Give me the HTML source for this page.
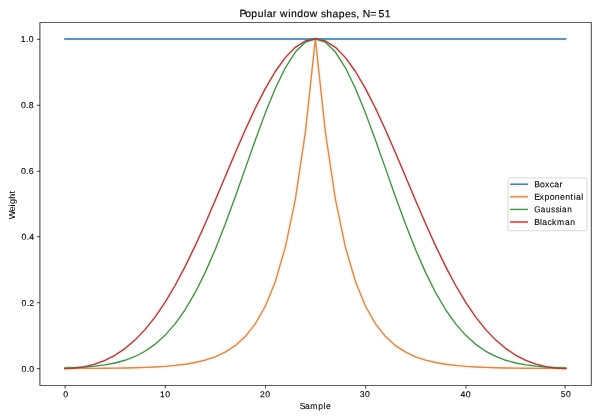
<!DOCTYPE html>
<html><head><meta charset="utf-8"><title>Popular window shapes, N=51</title>
<style>html,body{margin:0;padding:0;background:#fff;width:600px;height:420px;overflow:hidden}svg{display:block;will-change:transform}text{font-family:"Liberation Sans",sans-serif;fill:#000;text-rendering:geometricPrecision}</style>
</head><body>
<svg width="600" height="420" viewBox="0 0 600 420">
<rect x="0" y="0" width="600" height="420" fill="#ffffff"/>
<clipPath id="c"><rect x="39.767" y="22.400" width="551.233" height="362.633"/></clipPath>
<g clip-path="url(#c)" fill="none" stroke-linejoin="round" stroke-linecap="butt" stroke-width="4.5" stroke-opacity="0.09">
<line stroke="#6ac2ff" x1="64.19" y1="39" x2="566.42" y2="39"/>
<polyline stroke="#ff7f0e" points="64.82,368.47 74.85,368.44 84.87,368.40 94.89,368.33 104.91,368.25 114.93,368.13 124.96,367.96 134.98,367.73 145.00,367.41 155.02,366.96 165.05,366.33 175.07,365.45 185.09,364.22 195.11,362.51 205.14,360.12 215.16,356.79 225.18,352.14 235.20,345.64 245.23,336.58 255.25,323.93 265.27,306.28 275.29,281.65 285.32,247.27 295.34,199.29 305.36,132.33 315.38,38.88 325.41,132.33 335.43,199.29 345.45,247.27 355.47,281.65 365.50,306.28 375.52,323.93 385.54,336.58 395.56,345.64 405.59,352.14 415.61,356.79 425.63,360.12 435.65,362.51 445.67,364.22 455.70,365.45 465.72,366.33 475.74,366.96 485.76,367.41 495.79,367.73 505.81,367.96 515.83,368.13 525.85,368.25 535.88,368.33 545.90,368.40 555.92,368.44 565.94,368.47"/>
<polyline stroke="#8bff8b" points="64.82,367.99 74.85,367.63 84.87,367.06 94.89,366.19 104.91,364.89 114.93,362.99 124.96,360.27 134.98,356.47 145.00,351.28 155.02,344.36 165.05,335.36 175.07,323.93 185.09,309.78 195.11,292.70 205.14,272.64 215.16,249.72 225.18,224.30 235.20,196.97 245.23,168.60 255.25,140.23 265.27,113.11 275.29,88.54 285.32,67.81 295.34,52.07 305.36,42.23 315.38,38.88 325.41,42.23 335.43,52.07 345.45,67.81 355.47,88.54 365.50,113.11 375.52,140.23 385.54,168.60 395.56,196.97 405.59,224.30 415.61,249.72 425.63,272.64 435.65,292.70 445.67,309.78 455.70,323.93 465.72,335.36 475.74,344.36 485.76,351.28 495.79,356.47 505.81,360.27 515.83,362.99 525.85,364.89 535.88,366.19 545.90,367.06 555.92,367.63 565.94,367.99"/>
<polyline stroke="#ff5051" points="64.82,368.55 74.85,368.08 84.87,366.63 94.89,364.12 104.91,360.40 114.93,355.29 124.96,348.59 134.98,340.10 145.00,329.64 155.02,317.08 165.05,302.36 175.07,285.50 185.09,266.61 195.11,245.91 205.14,223.72 215.16,200.49 225.18,176.72 235.20,153.00 245.23,129.96 255.25,108.28 265.27,88.59 275.29,71.51 285.32,57.61 295.34,47.32 305.36,41.01 315.38,38.88 325.41,41.01 335.43,47.32 345.45,57.61 355.47,71.51 365.50,88.59 375.52,108.28 385.54,129.96 395.56,153.00 405.59,176.72 415.61,200.49 425.63,223.72 435.65,245.91 445.67,266.61 455.70,285.50 465.72,302.36 475.74,317.08 485.76,329.64 495.79,340.10 505.81,348.59 515.83,355.29 525.85,360.40 535.88,364.12 545.90,366.63 555.92,368.08 565.94,368.55"/>
</g>
<g clip-path="url(#c)" fill="none" stroke-linejoin="round" stroke-linecap="square" stroke-width="1.340">
<line stroke="#32729d" stroke-width="1.35" stroke-linecap="butt" x1="64.19" y1="39" x2="566.42" y2="39"/>
<polyline stroke="#cc8c53" points="64.82,368.47 74.85,368.44 84.87,368.40 94.89,368.33 104.91,368.25 114.93,368.13 124.96,367.96 134.98,367.73 145.00,367.41 155.02,366.96 165.05,366.33 175.07,365.45 185.09,364.22 195.11,362.51 205.14,360.12 215.16,356.79 225.18,352.14 235.20,345.64 245.23,336.58 255.25,323.93 265.27,306.28 275.29,281.65 285.32,247.27 295.34,199.29 305.36,132.33 315.38,38.88 325.41,132.33 335.43,199.29 345.45,247.27 355.47,281.65 365.50,306.28 375.52,323.93 385.54,336.58 395.56,345.64 405.59,352.14 415.61,356.79 425.63,360.12 435.65,362.51 445.67,364.22 455.70,365.45 465.72,366.33 475.74,366.96 485.76,367.41 495.79,367.73 505.81,367.96 515.83,368.13 525.85,368.25 535.88,368.33 545.90,368.40 555.92,368.44 565.94,368.47"/>
<polyline stroke="#4e884e" points="64.82,367.99 74.85,367.63 84.87,367.06 94.89,366.19 104.91,364.89 114.93,362.99 124.96,360.27 134.98,356.47 145.00,351.28 155.02,344.36 165.05,335.36 175.07,323.93 185.09,309.78 195.11,292.70 205.14,272.64 215.16,249.72 225.18,224.30 235.20,196.97 245.23,168.60 255.25,140.23 265.27,113.11 275.29,88.54 285.32,67.81 295.34,52.07 305.36,42.23 315.38,38.88 325.41,42.23 335.43,52.07 345.45,67.81 355.47,88.54 365.50,113.11 375.52,140.23 385.54,168.60 395.56,196.97 405.59,224.30 415.61,249.72 425.63,272.64 435.65,292.70 445.67,309.78 455.70,323.93 465.72,335.36 475.74,344.36 485.76,351.28 495.79,356.47 505.81,360.27 515.83,362.99 525.85,364.89 535.88,366.19 545.90,367.06 555.92,367.63 565.94,367.99"/>
<polyline stroke="#994142" points="64.82,368.55 74.85,368.08 84.87,366.63 94.89,364.12 104.91,360.40 114.93,355.29 124.96,348.59 134.98,340.10 145.00,329.64 155.02,317.08 165.05,302.36 175.07,285.50 185.09,266.61 195.11,245.91 205.14,223.72 215.16,200.49 225.18,176.72 235.20,153.00 245.23,129.96 255.25,108.28 265.27,88.59 275.29,71.51 285.32,57.61 295.34,47.32 305.36,41.01 315.38,38.88 325.41,41.01 335.43,47.32 345.45,57.61 355.47,71.51 365.50,88.59 375.52,108.28 385.54,129.96 395.56,153.00 405.59,176.72 415.61,200.49 425.63,223.72 435.65,245.91 445.67,266.61 455.70,285.50 465.72,302.36 475.74,317.08 485.76,329.64 495.79,340.10 505.81,348.59 515.83,355.29 525.85,360.40 535.88,364.12 545.90,366.63 555.92,368.08 565.94,368.55"/>
</g>
<g fill="#000" shape-rendering="geometricPrecision">
<rect x="64.678" y="385.550" width="0.812" height="2.935"/>
<rect x="164.851" y="385.550" width="0.757" height="2.935"/>
<rect x="265.173" y="385.550" width="0.654" height="2.935"/>
<rect x="365.392" y="385.550" width="0.757" height="2.935"/>
<rect x="465.510" y="385.550" width="0.812" height="2.935"/>
<rect x="564.678" y="385.550" width="0.812" height="2.935"/>
<rect x="36.820" y="368.435" width="3.180" height="0.722"/>
<rect x="36.820" y="302.435" width="3.180" height="0.722"/>
<rect x="36.820" y="236.435" width="3.180" height="0.722"/>
<rect x="36.820" y="170.843" width="3.180" height="0.722"/>
<rect x="36.820" y="104.843" width="3.180" height="0.722"/>
<rect x="36.820" y="38.843" width="3.180" height="0.722"/>
<rect x="39.5255" y="22.184" width="0.7882" height="363.6320"/>
<rect x="590.851" y="22.184" width="0.7370" height="363.6320"/>
<rect x="40.3137" y="22.184" width="550.5373" height="0.6320"/>
<rect x="40.3137" y="385.184" width="550.5373" height="0.6320"/>
</g>
<text transform="matrix(1.0338,0.0005,0,1,63.16,397.17)" x="0.02" font-size="8.5" stroke="#000" stroke-width="0.1">0</text>
<text transform="matrix(1.0202,0.0005,0,1,159.90,397.22)" x="0.03 5.25" font-size="8.5" stroke="#000" stroke-width="0.1">10</text>
<text transform="matrix(1.0130,0.0005,0,1,259.86,397.18)" x="0.02 5.21" font-size="8.5" stroke="#000" stroke-width="0.1">20</text>
<text transform="matrix(1.0213,0.0005,0,1,359.63,396.95)" x="0.03 5.17" font-size="8.5" stroke="#000" stroke-width="0.1">30</text>
<text transform="matrix(1.0427,0.0005,0,1,460.47,397.13)" x="0.02 5.05" font-size="8.5" stroke="#000" stroke-width="0.1">40</text>
<text transform="matrix(1.0100,0.0005,0,1,560.64,396.94)" x="0.03 5.23" font-size="8.5" stroke="#000" stroke-width="0.1">50</text>
<text transform="matrix(1.0340,0.0005,0,1,21.41,371.93)" x="0.02 5.09 7.64" font-size="8.5" stroke="#000" stroke-width="0.1">0.0</text>
<text transform="matrix(1.0151,0.0005,0,1,21.46,305.90)" x="0.03 5.19 7.77" font-size="8.5" stroke="#000" stroke-width="0.1">0.2</text>
<text transform="matrix(1.0421,0.0005,0,1,21.47,239.63)" x="0.02 5.05 7.58" font-size="8.5" stroke="#000" stroke-width="0.1">0.4</text>
<text transform="matrix(1.0505,0.0005,0,1,20.86,173.97)" x="0.02 5.01 7.52" font-size="8.5" stroke="#000" stroke-width="0.1">0.6</text>
<text transform="matrix(1.0431,0.0005,0,1,20.86,107.88)" x="0.02 5.04 7.58" font-size="8.5" stroke="#000" stroke-width="0.1">0.8</text>
<text transform="matrix(1.0217,0.0005,0,1,20.70,41.88)" x="0.03 5.23 7.81" font-size="8.5" stroke="#000" stroke-width="0.1">1.0</text>
<text transform="matrix(1.0030,0.0005,0,1,239.55,17.09)" x="-0.03 5.70 11.78 18.05 24.34 27.04 33.19 37.24 40.42 48.56 51.33 57.60 63.88 69.95 78.06 81.21 86.47 92.69 98.82 105.08 111.20 116.43 119.64 122.78 130.39 138.58 144.87" font-size="10.4" stroke="#000" stroke-width="0.15">Popular window shapes, N=51</text>
<text transform="matrix(0.9858,0.0005,0,1,299.71,408.94)" x="-0.03 5.31 10.64 18.83 24.22 26.58" font-size="8.7" stroke="#000" stroke-width="0.09">Sample</text>
<text transform="matrix(0.0005,-1.0354,1,0,14.99,219.29)" x="-0.02 7.55 12.48 14.72 19.86 24.96" font-size="8.7" stroke="#000" stroke-width="0.03">Weight</text>
<rect x="507.915" y="177.915" width="79.17" height="52.83" rx="1.8" ry="1.8" fill="#fff" fill-opacity="0.8" stroke="#ccc" stroke-opacity="0.8" stroke-width="0.95"/>
<line x1="509.5" y1="184.217" x2="528.5" y2="184.217" stroke="#6ac2ff" stroke-opacity="0.09" stroke-width="4.5"/>
<line x1="510.14" y1="184.217" x2="527.92" y2="184.217" stroke="#3d6f91" stroke-width="1.361"/>
<text transform="matrix(0.9972,0.0005,0,1,534.30,187.13)" x="-0.00 5.81 10.72 15.50 20.07 25.33" font-size="8.7" stroke="#000" stroke-width="0.09">Boxcar</text>
<line x1="509.5" y1="196.785" x2="528.5" y2="196.785" stroke="#ff7f0e" stroke-opacity="0.09" stroke-width="4.5"/>
<line x1="510.14" y1="196.785" x2="527.92" y2="196.785" stroke="#d38a4a" stroke-width="1.361"/>
<text transform="matrix(1.0095,0.0005,0,1,534.19,199.65)" x="-0.04 5.23 10.14 15.39 20.46 25.65 30.71 35.93 39.18 41.44 46.61" font-size="8.7" stroke="#000" stroke-width="0.09">Exponential</text>
<line x1="509.5" y1="209.41" x2="528.5" y2="209.41" stroke="#8bff8b" stroke-opacity="0.09" stroke-width="4.5"/>
<line x1="510.14" y1="209.41" x2="527.92" y2="209.41" stroke="#498b49" stroke-width="1.31"/>
<text transform="matrix(0.9403,0.0005,0,1,534.23,212.23)" x="0.00 6.86 12.41 17.96 22.51 27.07 29.52 35.07" font-size="8.7" stroke="#000" stroke-width="0.09">Gaussian</text>
<line x1="509.5" y1="222.0" x2="528.5" y2="222.0" stroke="#ff5051" stroke-opacity="0.09" stroke-width="4.5"/>
<line x1="510.14" y1="222.0" x2="527.92" y2="222.0" stroke="#a13e3e" stroke-width="1.4"/>
<text transform="matrix(0.9817,0.0005,0,1,534.21,224.99)" x="0.00 5.91 8.24 13.53 18.23 23.21 31.39 36.71" font-size="8.7" stroke="#000" stroke-width="0.09">Blackman</text>
</svg>
</body></html>
